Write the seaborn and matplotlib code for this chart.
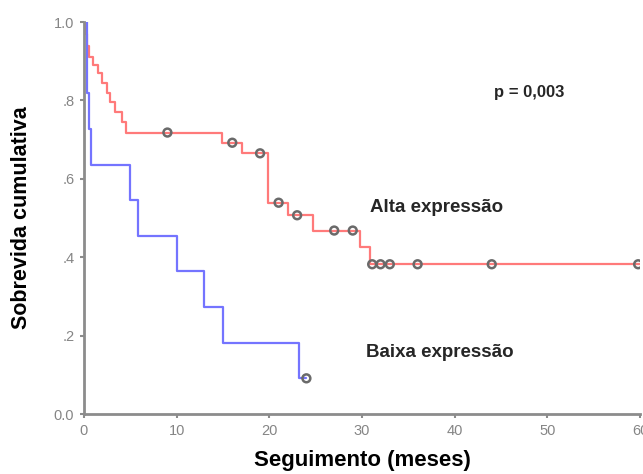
import numpy as np
import pandas as pd
import matplotlib
matplotlib.use("Agg")
import matplotlib.pyplot as plt
import seaborn as sns

# ---- data (Kaplan-Meier step functions) ----
alta_times = [0, 0.1, 0.3, 0.5, 1.0, 1.5, 1.9, 2.5, 2.8, 3.3, 4.1, 4.5,
              14.9, 17.0, 19.9, 22.0, 24.7, 29.8, 30.9, 60]
alta_surv = [1.0, 0.97, 0.94, 0.91, 0.89, 0.87, 0.845, 0.82, 0.797, 0.77, 0.745, 0.718,
             0.692, 0.665, 0.539, 0.507, 0.468, 0.425, 0.382, 0.382]
alta_censored = [9, 16, 19, 21, 23, 27, 29, 31.1, 32, 33, 36, 44, 59.8]

baixa_times = [0, 0.3, 0.5, 0.8, 5.0, 5.8, 10.0, 13.0, 15.0, 23.2, 24]
baixa_surv = [1.0, 0.818, 0.727, 0.636, 0.545, 0.455, 0.364, 0.273, 0.182, 0.091, 0.091]
baixa_censored = [24]

x_ticks = [0, 10, 20, 30, 40, 50, 60]
y_ticks = [0.0, 0.2, 0.4, 0.6, 0.8, 1.0]
y_tick_labels = ["0.0", ".2", ".4", ".6", ".8", "1.0"]

p_text = "p = 0,003"
label_alta = "Alta expressão"
label_baixa = "Baixa expressão"
x_label = "Seguimento (meses)"
y_label = "Sobrevida cumulativa"

# ---- style ----
sns.set_style("white")
plt.rcParams["font.family"] = ["Liberation Sans", "DejaVu Sans"]

red = "#ff7a7a"
blue = "#7474ff"


def step_value(times, surv, t):
    idx = np.searchsorted(times, t, side="right") - 1
    return surv[idx]


df_alta = pd.DataFrame({"t": alta_times, "S": alta_surv})
df_baixa = pd.DataFrame({"t": baixa_times, "S": baixa_surv})
cens_alta = pd.DataFrame({"t": alta_censored,
                          "S": [step_value(alta_times, alta_surv, t) for t in alta_censored]})
cens_baixa = pd.DataFrame({"t": baixa_censored,
                           "S": [step_value(baixa_times, baixa_surv, t) for t in baixa_censored]})

fig = plt.figure(figsize=(6.43, 4.74), dpi=100)
ax = fig.add_axes([84 / 643, 1 - 414 / 474, (640 - 84) / 643, (414 - 22) / 474])

sns.lineplot(data=df_alta, x="t", y="S", ax=ax, color=red, lw=1.6,
             drawstyle="steps-post", estimator=None, sort=False)
sns.lineplot(data=df_baixa, x="t", y="S", ax=ax, color=blue, lw=1.6,
             drawstyle="steps-post", estimator=None, sort=False)
sns.scatterplot(data=cens_alta, x="t", y="S", ax=ax, marker="o", s=32,
                facecolor="none", edgecolor="#6a6a6a", linewidth=1.8, zorder=5)
sns.scatterplot(data=cens_baixa, x="t", y="S", ax=ax, marker="o", s=32,
                facecolor="none", edgecolor="#6a6a6a", linewidth=1.8, zorder=5)

ax.set_xlim(0, 60)
ax.set_ylim(0, 1.0)
ax.set_xticks(x_ticks)
ax.set_yticks(y_ticks)
ax.set_yticklabels(y_tick_labels)

for s in ["top", "right"]:
    ax.spines[s].set_visible(False)
for s in ["left", "bottom"]:
    ax.spines[s].set_color("#8c8c8c")
    ax.spines[s].set_linewidth(2.0)

ax.tick_params(axis="both", which="both", direction="out", length=3, width=1.5,
               color="#8c8c8c", labelcolor="#858585", labelsize=10.5, pad=4,
               bottom=True, left=True)

ax.set_xlabel(x_label, fontsize=16, fontweight="bold", labelpad=9, color="black")
ax.set_ylabel(y_label, fontsize=15.5, fontweight="bold", labelpad=16, color="black")

ax.text(44.2, 0.821, p_text, fontsize=12, fontweight="bold", ha="left", va="center")
ax.text(30.9, 0.526, label_alta, fontsize=13.5, fontweight="bold", ha="left", va="center")
ax.text(30.4, 0.156, label_baixa, fontsize=13.5, fontweight="bold", ha="left", va="center")

for lbl in ax.get_xticklabels():
    lbl.set_clip_on(False)

fig.savefig("out.png", dpi=100)
